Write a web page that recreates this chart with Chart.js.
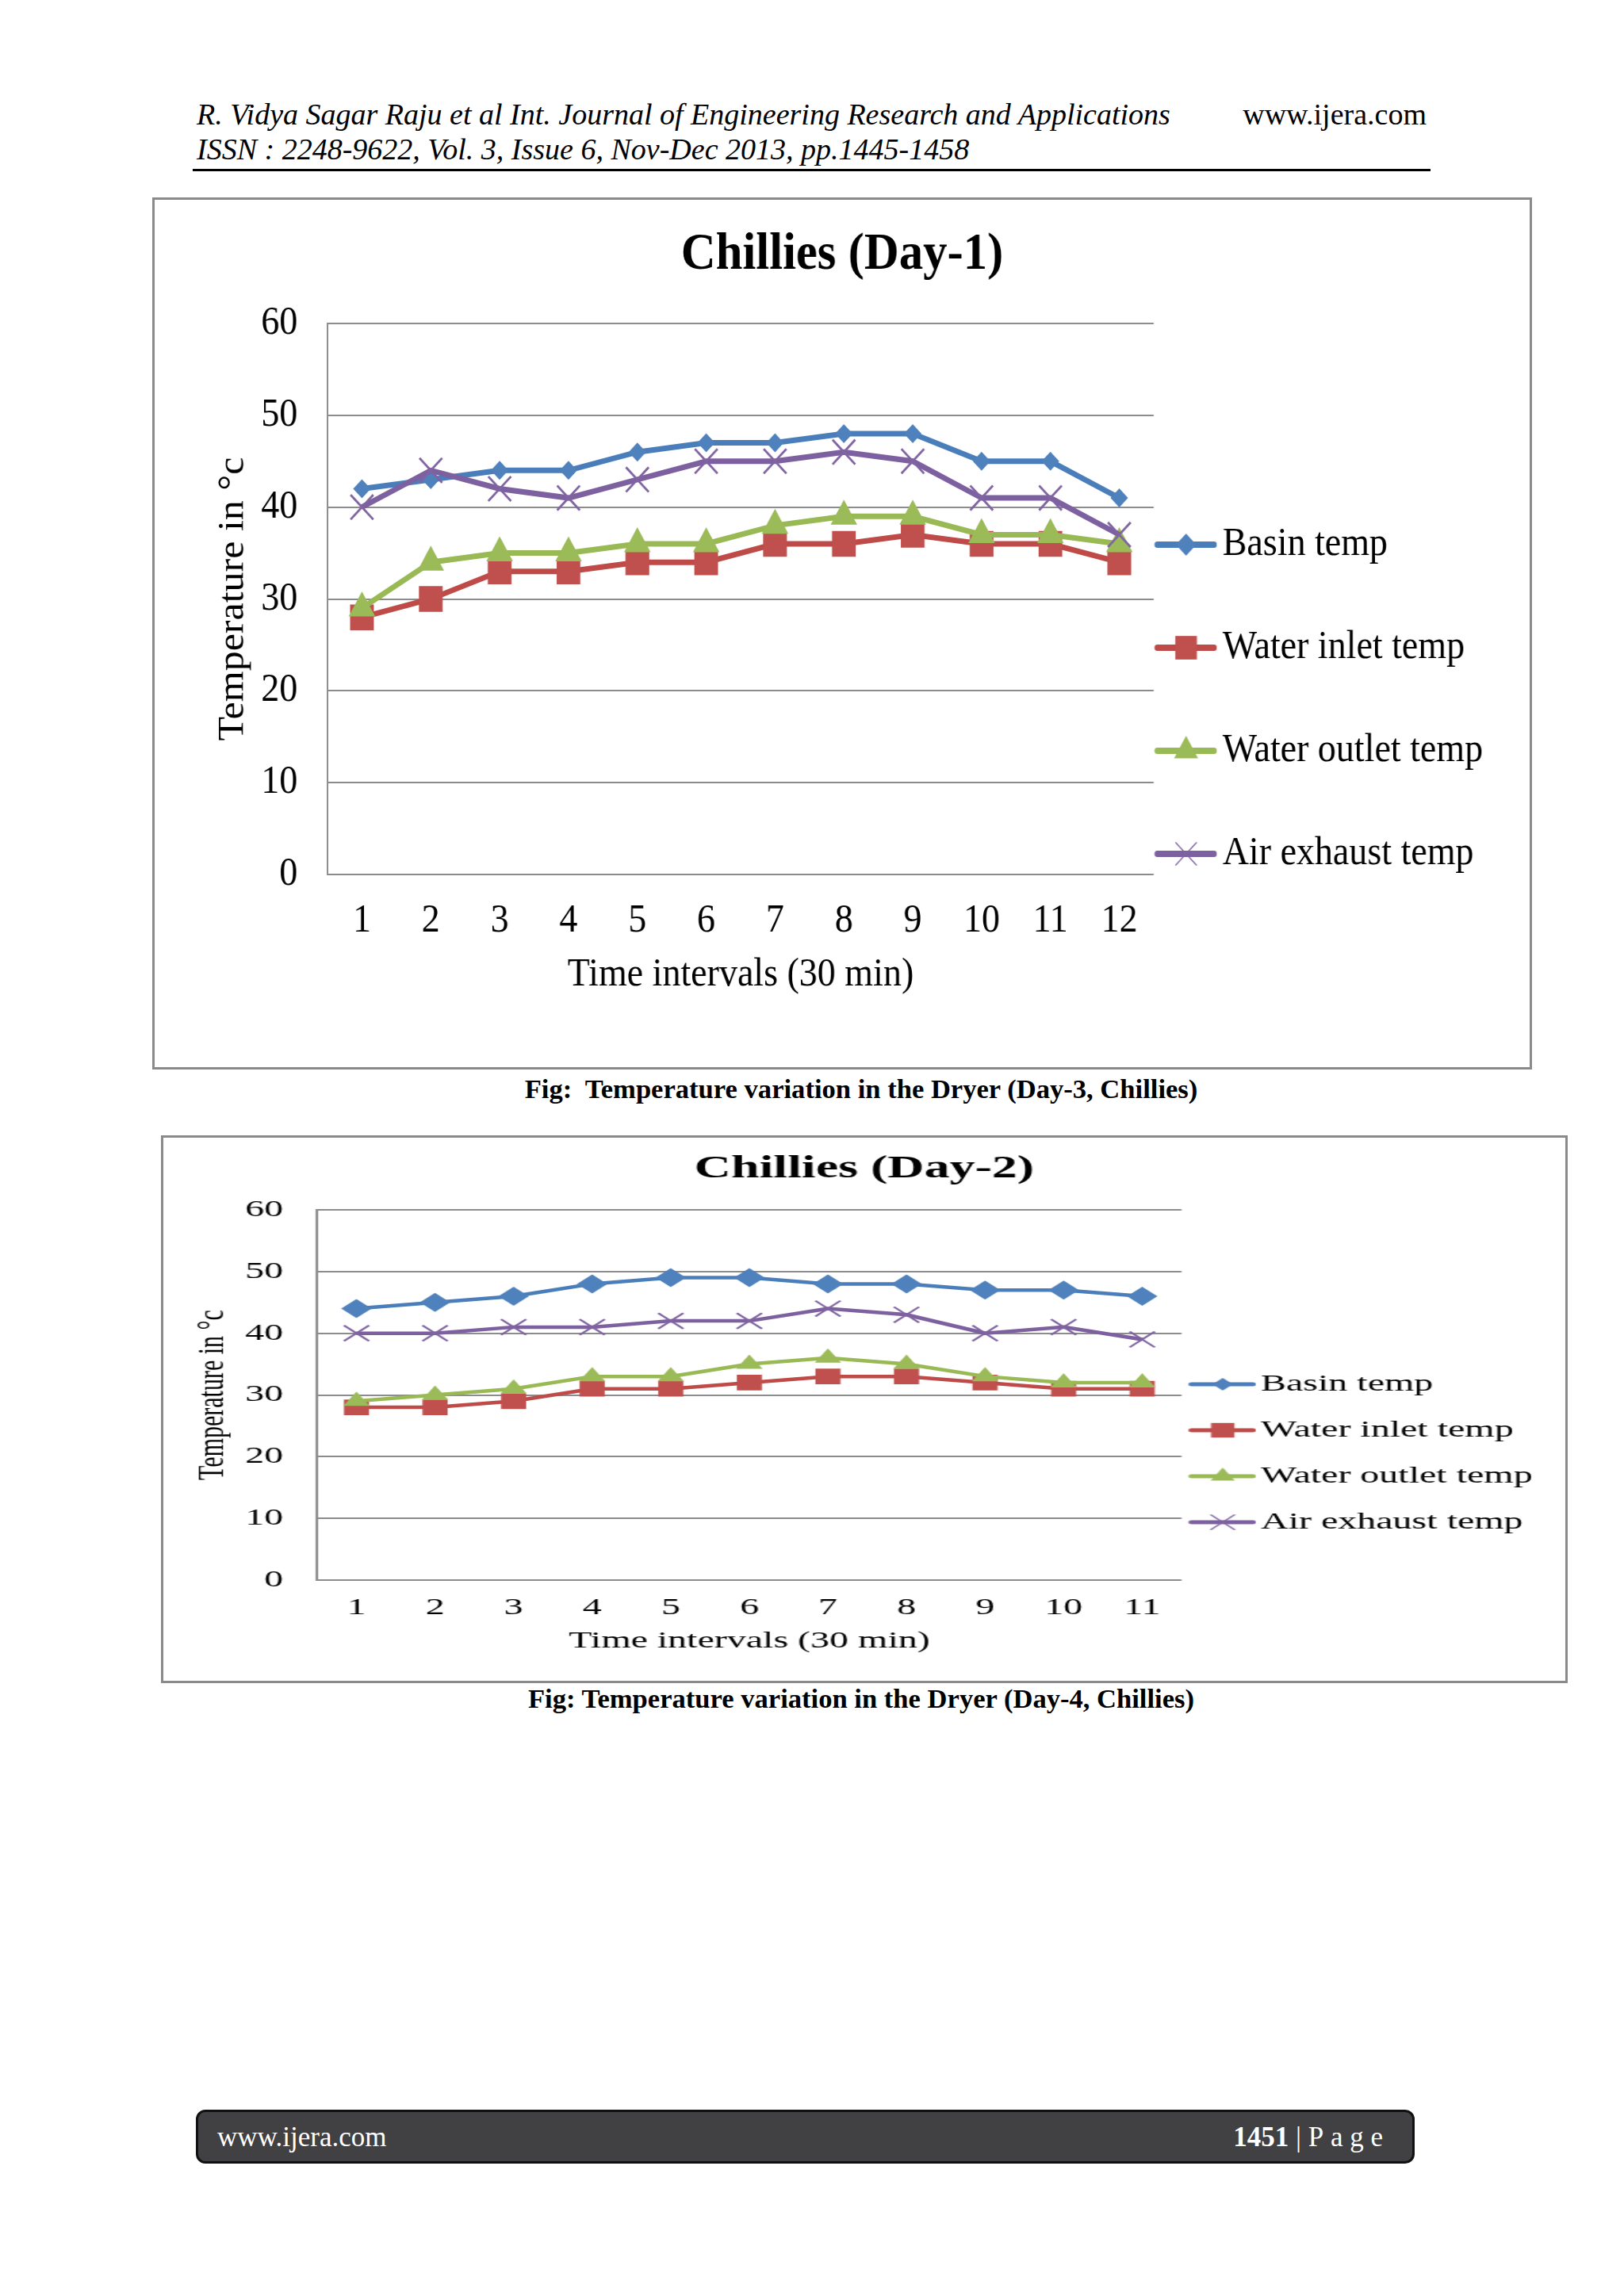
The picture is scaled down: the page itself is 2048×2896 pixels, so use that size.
<!DOCTYPE html>
<html>
<head>
<meta charset="utf-8">
<script src="https://cdn.jsdelivr.net/npm/chart.js@4.4.1/dist/chart.umd.min.js"></script>
<style>
  body { margin: 0; width: 2048px; height: 2896px; position: relative; background: #fff; font-family: 'Liberation Serif', 'Times New Roman', serif; color: #000; }
  .abs { position: absolute; white-space: nowrap; }
  .hd { font-size: 38px; line-height: 44px; }
  .cap { font-size: 34.6px; line-height: 40px; font-weight: bold; }
  .box { position: absolute; border: 3px solid #8a8a8a; box-sizing: border-box; }
  canvas { position: absolute; transform-origin: 0 0; }
  .foot { position: absolute; left: 247px; top: 2661px; width: 1537px; height: 68px; background: #414042; border: 3px solid #111; border-radius: 12px; box-sizing: border-box; }
  .foot span { position: absolute; color: #fff; font-size: 35px; line-height: 40px; top: 12px; white-space: nowrap; }
</style>
</head>
<body>

<div class="abs hd" style="left:248px; top:122px; font-style:italic;">R. Vidya Sagar Raju et al Int. Journal of Engineering Research and Applications</div>
<div class="abs hd" style="right:249px; top:122px;">www.ijera.com</div>
<div class="abs hd" style="left:248px; top:166px; font-style:italic;">ISSN : 2248-9622, Vol. 3, Issue 6, Nov-Dec 2013, pp.1445-1458</div>
<div class="abs" style="left:243px; top:213px; width:1561px; height:3px; background:#000;"></div>

<div class="box" style="left:192px; top:249px; width:1740px; height:1100px;"></div>
<canvas id="day1Chart" width="1885" height="1094" style="left:195px; top:252px; transform:scaleX(0.91989);"></canvas>
<div class="abs cap" style="left:0; width:2172px; text-align:center; top:1353px;">Fig:&nbsp; Temperature variation in the Dryer (Day-3, Chillies)</div>

<div class="box" style="left:203px; top:1432px; width:1774px; height:691px;"></div>
<canvas id="day2Chart" width="1105" height="685" style="left:206px; top:1435px; transform:scaleX(1.6);"></canvas>
<div class="abs cap" style="left:0; width:2172px; text-align:center; top:2122px;">Fig: Temperature variation in the Dryer (Day-4, Chillies)</div>

<div class="foot">
  <span style="left:24px;">www.ijera.com</span>
  <span style="right:37px;"><b>1451</b> | P&nbsp;a&nbsp;g&nbsp;e</span>
</div>

<script>
// ---- data ----
const timeLabels1 = ['1', '2', '3', '4', '5', '6', '7', '8', '9', '10', '11', '12'];
const basinDay1   = [42, 43, 44, 44, 46, 47, 47, 48, 48, 45, 45, 41];
const inletDay1   = [28, 30, 33, 33, 34, 34, 36, 36, 37, 36, 36, 34];
const outletDay1  = [29, 34, 35, 35, 36, 36, 38, 39, 39, 37, 37, 36];
const exhaustDay1 = [40, 44, 42, 41, 43, 45, 45, 46, 45, 41, 41, 37];

const timeLabels2 = ['1', '2', '3', '4', '5', '6', '7', '8', '9', '10', '11'];
const basinDay2   = [44, 45, 46, 48, 49, 49, 48, 48, 47, 47, 46];
const inletDay2   = [28, 28, 29, 31, 31, 32, 33, 33, 32, 31, 31];
const outletDay2  = [29, 30, 31, 33, 33, 35, 36, 35, 33, 32, 32];
const exhaustDay2 = [40, 40, 41, 41, 42, 42, 44, 43, 40, 41, 39];

const seriesNames = ['Basin temp', 'Water inlet temp', 'Water outlet temp', 'Air exhaust temp'];
const yMin = 0, yMax = 60, yStep = 10;

const lineColors   = ['#4A7EBB', '#BE4B48', '#98B954', '#7D60A0'];
const markerColors = ['#4F81BD', '#C0504D', '#9BBB59', '#8064A2'];
const markerStyles = ['rectRot', 'rect', 'triangle', 'crossRot'];
const FONT = "'Liberation Serif', 'Times New Roman', serif";

Chart.defaults.font.family = FONT;
Chart.defaults.color = '#000';

// small line + marker picture used as legend symbol
function drawMarker(ctx, style, x, y, r, color) {
    ctx.fillStyle = color;
    ctx.strokeStyle = color;
    ctx.beginPath();
    if (style === 'rectRot') {
        ctx.moveTo(x, y - r); ctx.lineTo(x + r, y); ctx.lineTo(x, y + r); ctx.lineTo(x - r, y);
        ctx.closePath(); ctx.fill();
    } else if (style === 'rect') {
        const s = r * Math.SQRT1_2;
        ctx.rect(x - s, y - s, 2 * s, 2 * s); ctx.fill();
    } else if (style === 'triangle') {
        ctx.moveTo(x, y - r);
        ctx.lineTo(x + r * Math.sin(Math.PI / 3), y + r / 2);
        ctx.lineTo(x - r * Math.sin(Math.PI / 3), y + r / 2);
        ctx.closePath(); ctx.fill();
    } else {
        const d = r * Math.SQRT1_2;
        ctx.lineWidth = 1.5;
        ctx.moveTo(x - d, y - d); ctx.lineTo(x + d, y + d);
        ctx.moveTo(x + d, y - d); ctx.lineTo(x - d, y + d);
        ctx.stroke();
    }
}

function makeIcon(i, w, h, x0, mx, lw, radii) {
    const c = document.createElement('canvas');
    c.width = w; c.height = h;
    const ctx = c.getContext('2d');
    ctx.strokeStyle = lineColors[i];
    ctx.lineWidth = lw;
    ctx.lineCap = 'round';
    ctx.beginPath();
    ctx.moveTo(x0 + lw / 2, h / 2);
    ctx.lineTo(w - lw / 2, h / 2);
    ctx.stroke();
    drawMarker(ctx, markerStyles[i], mx, h / 2, radii[i], markerColors[i]);
    return c;
}

function buildDatasets(series, lineWidth, radii, crossWidth) {
    return series.map((data, i) => ({
        label: seriesNames[i],
        data: data,
        borderColor: lineColors[i],
        backgroundColor: markerColors[i],
        borderWidth: lineWidth,
        pointStyle: markerStyles[i],
        pointRadius: radii[i],
        pointHoverRadius: radii[i],
        pointBackgroundColor: markerColors[i],
        pointBorderColor: markerColors[i],
        pointBorderWidth: i === 3 ? crossWidth : 0,
        tension: 0,
        order: 4 - i
    }));
}

function legendLabels(icons) {
    return (chart) => {
        const items = Chart.defaults.plugins.legend.labels.generateLabels(chart);
        items.sort((a, b) => a.datasetIndex - b.datasetIndex);
        return items.map((it) => ({ ...it, text: [it.text], pointStyle: icons[it.datasetIndex] }));
    };
}

// width of the legend box as Chart.js will compute it
function legendWidth(fontSize, boxW) {
    const m = document.createElement('canvas').getContext('2d');
    m.font = fontSize + 'px ' + FONT;
    const widest = Math.max(...seriesNames.map((t) => m.measureText(t).width));
    return 2 + boxW + fontSize / 2 + widest + 10;
}

function makeChart(id, cfg) {
    const canvas = document.getElementById(id);
    const half = cfg.fontSize * 0.6;
    // side padding so the plot box lands on cfg.plotLeft / cfg.plotRight
    const sidePad = canvas.width - cfg.plotRight - legendWidth(cfg.fontSize, cfg.legendBoxW);
    return new Chart(canvas.getContext('2d'), {
        type: 'line',
        data: { labels: cfg.labels, datasets: buildDatasets(cfg.series, cfg.lineWidth, cfg.radii, cfg.crossWidth) },
        options: {
            responsive: false,
            animation: false,
            layout: { padding: { left: sidePad, right: sidePad, top: 0, bottom: 0 } },
            plugins: {
                title: {
                    display: true,
                    text: cfg.title,
                    font: { size: cfg.titleSize, weight: 'bold' },
                    color: '#000',
                    padding: cfg.titlePad
                },
                legend: {
                    position: 'right',
                    align: 'start',
                    maxWidth: 3000,
                    labels: {
                        usePointStyle: true,
                        pointStyleWidth: cfg.legendBoxW,
                        padding: 2,
                        color: '#000',
                        font: { size: cfg.fontSize, lineHeight: (cfg.legendRow - 2) + 'px' },
                        generateLabels: legendLabels(cfg.icons)
                    },
                    title: { display: true, text: '', font: { size: 1 }, padding: { top: cfg.legendFirst - 2 - cfg.fontSize / 2 - 1.2, bottom: 0 } }
                },
                tooltip: { enabled: false }
            },
            scales: {
                x: {
                    offset: true,
                    grid: { display: false, drawTicks: false },
                    border: { display: false },
                    ticks: { padding: cfg.xLabelY - cfg.plotBottom - half, font: { size: cfg.fontSize }, color: '#000' },
                    title: { display: true, text: 'Time intervals (30 min)', font: { size: cfg.fontSize }, color: '#000',
                             padding: { top: 0, bottom: canvas.height - cfg.xTitleY - half } },
                    afterFit: (s) => { s.height = canvas.height - cfg.plotBottom; }
                },
                y: {
                    min: yMin,
                    max: yMax,
                    ticks: { stepSize: yStep, padding: cfg.plotLeft - cfg.yLabelRight, font: { size: cfg.fontSize }, color: '#000' },
                    grid: { color: '#8c8c8c', lineWidth: 2, drawTicks: false },
                    border: { display: true, color: '#8c8c8c', width: 2 },
                    title: { display: true, text: 'Temperature in °c', font: { size: cfg.fontSize }, color: '#000',
                             padding: { top: cfg.yTitleX - half - sidePad, bottom: 0 } },
                    afterFit: (s) => { s.width = cfg.plotLeft - sidePad; }
                }
            }
        }
    });
}

// Day-1 chart (drawn a bit wider, then squeezed like the original picture)
makeChart('day1Chart', {
    labels: timeLabels1,
    series: [basinDay1, inletDay1, outletDay1, exhaustDay1],
    title: 'Chillies (Day-1)',
    titleSize: 66,
    titlePad: { top: 30.4, bottom: 46.4 },
    fontSize: 50,
    lineWidth: 7,
    radii: [12, 23, 21, 22],
    crossWidth: 3,
    icons: [0, 1, 2, 3].map((i) => makeIcon(i, 102, 44, 16.4, 59.7, 8, [14, 21, 19, 20])),
    plotLeft: 237, plotRight: 1369.6, plotBottom: 851,
    yLabelRight: 196, yTitleX: 108,
    xLabelY: 910, xTitleY: 978,
    legendBoxW: 67.4, legendRow: 130, legendFirst: 435
});

// Day-2 chart (drawn narrow, then stretched wide like the original picture)
makeChart('day2Chart', {
    labels: timeLabels2,
    series: [basinDay2, inletDay2, outletDay2, exhaustDay2],
    title: 'Chillies (Day-2)',
    titleSize: 40,
    titlePad: { top: 16, bottom: 27 },
    fontSize: 30,
    lineWidth: 4.5,
    radii: [12, 14, 12, 14],
    crossWidth: 2,
    icons: [0, 1, 2, 3].map((i) => makeIcon(i, 68, 30, 14.75, 41.75, 5, [8, 13, 11, 13])),
    plotLeft: 121.25, plotRight: 802.5, plotBottom: 558,
    yLabelRight: 94.4, yTitleX: 38.75,
    xLabelY: 593, xTitleY: 635,
    legendBoxW: 45.5, legendRow: 58, legendFirst: 311
});
</script>
</body>
</html>
